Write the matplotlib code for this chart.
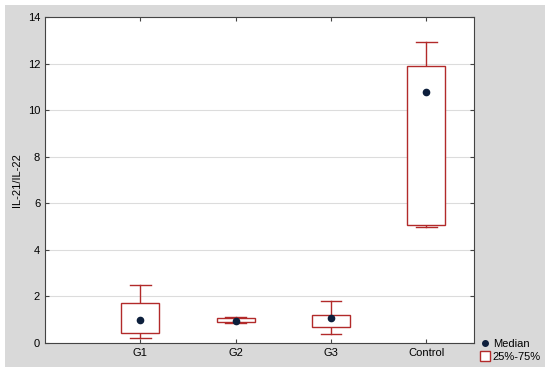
import matplotlib
matplotlib.use("Agg")
import matplotlib.pyplot as plt
from matplotlib.patches import Rectangle
from matplotlib.lines import Line2D

plt.rcParams['font.family'] = ['Liberation Sans', 'DejaVu Sans']

# values
groups = ["G1", "G2", "G3", "Control"]
whisker_lo = [0.2, 0.85, 0.4, 4.97]
q25 = [0.45, 0.92, 0.7, 5.07]
medians = [1.0, 0.95, 1.08, 10.8]
q75 = [1.7, 1.08, 1.22, 11.88]
whisker_hi = [2.5, 1.1, 1.8, 12.92]

box_col = '#b22a2a'
dot_col = '#0d1f3c'

fig = plt.figure(figsize=(5.5, 3.7), dpi=100)
fig.patch.set_facecolor('white')
# gray panel behind everything
fig.patches.append(Rectangle((5/550, 3/370), 540/550, 362/370, transform=fig.transFigure,
                             facecolor='#d9d9d9', edgecolor='none', zorder=-10))

ax = fig.add_axes([45/550, 27/370, 429/550, 326/370])
ax.set_facecolor('white')

bw = 0.4
cw = 0.22
for i, g in enumerate(groups):
    x = i + 1
    ax.add_patch(Rectangle((x - bw/2, q25[i]), bw, q75[i] - q25[i],
                           facecolor='white', edgecolor=box_col, lw=1.0, zorder=3))
    ax.plot([x, x], [q75[i], whisker_hi[i]], color=box_col, lw=1.0, zorder=2)
    ax.plot([x, x], [whisker_lo[i], q25[i]], color=box_col, lw=1.0, zorder=2)
    ax.plot([x - cw/2, x + cw/2], [whisker_hi[i]] * 2, color=box_col, lw=1.0, zorder=2)
    ax.plot([x - cw/2, x + cw/2], [whisker_lo[i]] * 2, color=box_col, lw=1.0, zorder=2)

ax.plot(range(1, len(groups) + 1), medians, 'o', color=dot_col, ms=4.5, zorder=4)

ax.set_xlim(0, 4.5)
ax.set_ylim(0, 14)
ax.set_xticks(range(1, len(groups) + 1))
ax.set_xticklabels(groups)
ax.set_yticks(range(0, 15, 2))
ax.yaxis.grid(True, color='#dcdcdc', lw=0.8)
ax.set_axisbelow(True)
ax.tick_params(direction='in', length=3, labelsize=8, top=True, right=True, color='#444444')
for s in ax.spines.values():
    s.set_color('#444444')
    s.set_linewidth(0.8)
ax.set_ylabel('IL-21/IL-22', fontsize=8)

handles = [Line2D([], [], marker='o', ls='none', color=dot_col, ms=4),
           Line2D([], [], marker='s', ls='none', mfc='white', mec=box_col, ms=7)]
fig.legend(handles, ['Median', '25%-75%'], loc='lower left',
           bbox_to_anchor=(474/550, 4/370), frameon=False, fontsize=8,
           handletextpad=0.1, labelspacing=0.2, handlelength=1.2, borderaxespad=0)

fig.savefig('out.png', dpi=100)
